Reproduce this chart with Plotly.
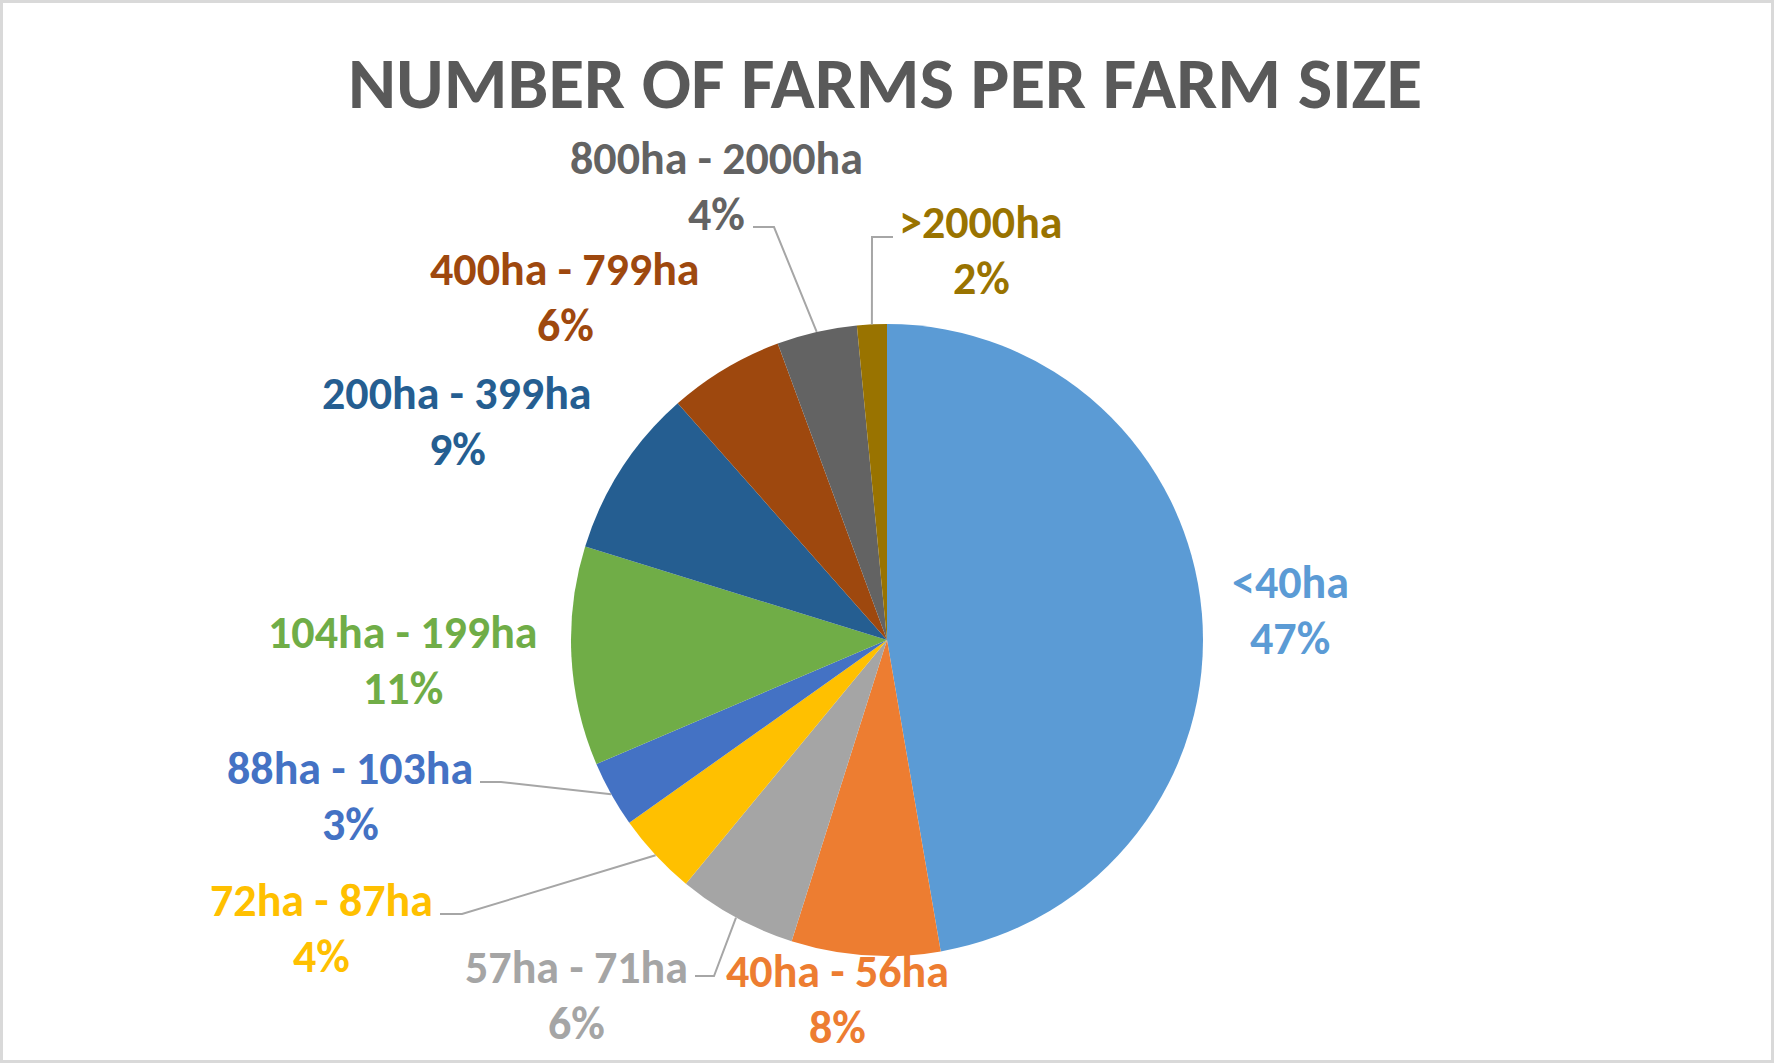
import math
import plotly.graph_objects as go

# data (share of farms, %)
farm_sizes = ["<40ha", "40ha - 56ha", "57ha - 71ha", "72ha - 87ha", "88ha - 103ha",
              "104ha - 199ha", "200ha - 399ha", "400ha - 799ha", "800ha - 2000ha", ">2000ha"]
farm_share = [47.28, 7.6, 6.1, 4.2, 3.4, 11.2, 8.7, 5.9, 4.1, 1.52]

colors = ["#5B9BD5", "#ED7D31", "#A5A5A5", "#FFC000", "#4472C4",
          "#70AD47", "#255E91", "#9E480E", "#636363", "#997300"]

W, H = 1774, 1063
CX, CY, R = 887, 640, 316          # pie centre / radius in px
FONT = "Carlito, Calibri, Lato, sans-serif"
LABEL_SIZE = 46
LINE_GAP = 28                       # half the distance between label lines

# label block centres (px) and elbow points for the leader lines
label_pos = [(1290, 610), (837, 999), (576, 995), (321, 928), (350, 796),
             (403, 660), (457, 421), (565, 297), (716, 186), (981, 250)]
leader_elbow = {2: [(695, 976), (714, 976)],
                3: [(440, 914), (462, 914)],
                4: [(480, 782), (501, 782)],
                8: [(753, 227), (774, 227)],
                9: [(893, 237), (872, 237)]}

total = sum(farm_share)

fig = go.Figure()
fig.add_trace(go.Pie(
    labels=farm_sizes, values=farm_share, sort=False, direction="clockwise",
    rotation=0, textinfo="none", hoverinfo="label+percent",
    marker=dict(colors=colors, line=dict(width=0)),
    domain=dict(x=[(CX - R) / W, (CX + R) / W],
                y=[(H - CY - R) / H, (H - CY + R) / H]),
    showlegend=False,
))

annotations = []
shapes = [dict(type="rect", xref="x", yref="y", x0=1.5, y0=1.5, x1=W - 1.5, y1=H - 1.5,
               line=dict(color="#D9D9D9", width=3), layer="below")]
cum = 0
for i, (name, v) in enumerate(zip(farm_sizes, farm_share)):
    mid = 2 * math.pi * (cum + v / 2) / total
    cum += v
    lx, ly = label_pos[i]
    for txt, dy in ((name, -LINE_GAP), (f"{v / total:.0%}", LINE_GAP)):
        annotations.append(dict(
            x=lx, y=ly + dy, xref="x", yref="y", showarrow=False,
            text=f"<b>{txt}</b>",
            font=dict(family=FONT, size=LABEL_SIZE, color=colors[i]),
            xanchor="center", yanchor="middle"))
    if i in leader_elbow:
        pts = leader_elbow[i] + [(CX + R * math.sin(mid), CY - R * math.cos(mid))]
        path = "M " + " L ".join(f"{x:.1f},{y:.1f}" for x, y in pts)
        shapes.append(dict(type="path", xref="x", yref="y", path=path,
                           line=dict(color="#A6A6A6", width=2)))

annotations.append(dict(
    x=885, y=83, xref="x", yref="y", showarrow=False,
    text="<b>NUMBER OF FARMS PER FARM SIZE</b>",
    font=dict(family=FONT, size=73, color="#595959"),
    xanchor="center", yanchor="middle"))

fig.update_layout(
    width=W, height=H, margin=dict(l=0, r=0, t=0, b=0),
    paper_bgcolor="white", plot_bgcolor="white",
    xaxis=dict(range=[0, W], visible=False, domain=[0, 1], fixedrange=True),
    yaxis=dict(range=[H, 0], visible=False, domain=[0, 1], fixedrange=True),
    annotations=annotations, shapes=shapes,
)

fig.write_html("out.html", config={"displayModeBar": False},
               post_script="document.body.style.margin='0';")
